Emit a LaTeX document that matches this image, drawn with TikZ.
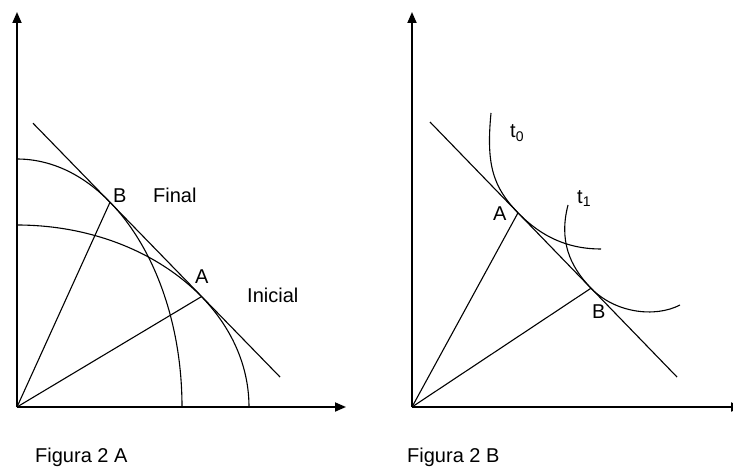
\documentclass[tikz,border=0pt]{standalone}
\usepackage{fontspec}
\setmainfont{Liberation Sans}
\usetikzlibrary{arrows.meta}
\begin{document}
\begin{tikzpicture}[x=1pt,y=-1pt,
  axis/.style={line width=1.8pt,-{Triangle[length=11pt,width=9pt]}},
  ln/.style={line width=1.1pt},
  lbl/.style={anchor=base west,inner sep=0pt,font=\fontsize{20}{22}\selectfont},
  sub/.style={font=\fontsize{14}{14}\selectfont}]
\useasboundingbox (0,0) rectangle (733,468);
\clip (0,0) rectangle (733,468);
% ---------- Figura 2 A ----------
\coordinate (OA) at (17,407);
\coordinate (YA) at (17,12);
\coordinate (XA) at (346,407);
\draw[axis] (OA) -- (YA);
\draw[axis] (OA) -- (XA);
\coordinate (TA1) at (33,123.2);
\coordinate (TA2) at (280,377);
\draw[ln] (TA1) -- (TA2);
\coordinate (FA) at (17,159);
\coordinate (IA) at (17,225);
\draw[ln] (FA) arc[start angle=-90,end angle=0,x radius=165,y radius=248];
\draw[ln] (IA) arc[start angle=-90,end angle=0,x radius=232,y radius=182];
\coordinate (BA) at (110,202.3);
\coordinate (AA) at (201.5,296.6);
\draw[ln] (OA) -- (BA);
\draw[ln] (OA) -- (AA);
\node[lbl] (lBA) at (113,202) {B};
\node[lbl] (lFin) at (153,202) {Final};
\node[lbl] (lAA) at (195,283) {A};
\node[lbl] (lIni) at (247,302) {Inicial};
\node[lbl] (capA) at (35,462) {Figura 2 A};
% ---------- Figura 2 B ----------
\coordinate (OB) at (412,407);
\coordinate (YB) at (412,12);
\coordinate (XB) at (742,407);
\draw[axis] (OB) -- (YB);
\draw[axis] (OB) -- (XB);
\coordinate (TB1) at (430,122);
\coordinate (TB2) at (677,377);
\draw[ln] (TB1) -- (TB2);
\coordinate (AB) at (518,212.8);
\coordinate (BB) at (591,288.2);
\draw[ln] (OB) -- (AB);
\draw[ln] (OB) -- (BB);
\coordinate (T0s) at (491,113);
\coordinate (T0e) at (601,249);
\draw[ln] (T0s) .. controls (486,165) and (493,187) .. (AB)
  .. controls (546,241.7) and (575,249) .. (T0e);
\coordinate (T1s) at (568,205);
\coordinate (T1e) at (680,305);
\draw[ln] (T1s) .. controls (559,240) and (569,265.5) .. (BB)
  .. controls (615,313) and (655,318) .. (T1e);
\node[lbl] (lt0) at (510,138) {t\raisebox{-0.35ex}{\fontsize{14}{14}\selectfont 0}};
\node[lbl] (lt1) at (577,203) {t\raisebox{-0.35ex}{\fontsize{14}{14}\selectfont 1}};
\node[lbl] (lAB) at (493,220) {A};
\node[lbl] (lBB) at (592,318) {B};
\node[lbl] (capB) at (407,462) {Figura 2 B};
\end{tikzpicture}
\end{document}
